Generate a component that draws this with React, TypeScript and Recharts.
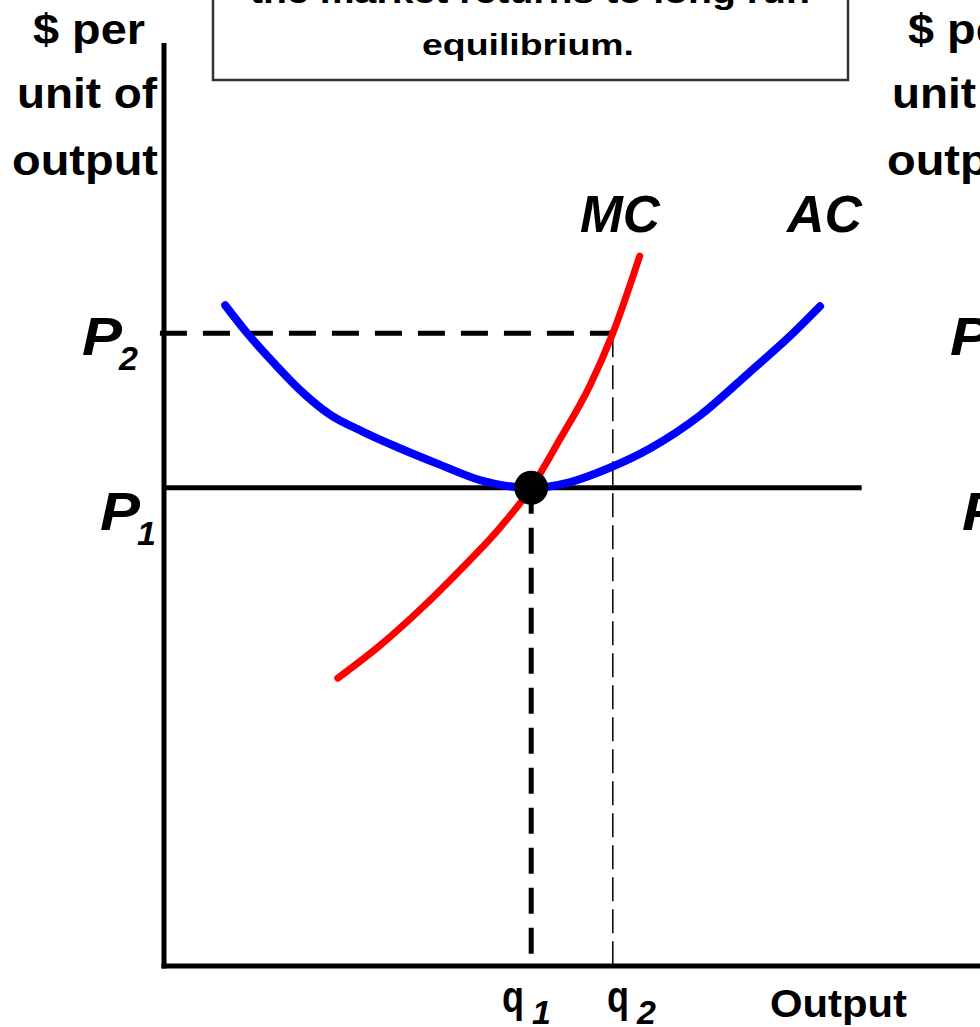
import { ComposedChart, Line, XAxis, YAxis, ReferenceLine, ReferenceDot } from "recharts";

// output (x) and $ per unit (y)
const acQty = [7.5, 10.2, 13.6, 16.7, 20.3, 24.4, 28.9, 33.8, 38.7, 45, 49.8, 54.7, 59.6, 65.7, 71.8, 76.7, 80.4];
const acCost = [68.4, 65.5, 62.3, 59.6, 57.1, 55.3, 53.6, 51.9, 50.3, 49.5, 50.1, 51.6, 53.6, 57.0, 61.5, 65.2, 68.3];

const mcQty = [21.3, 26.5, 31.4, 36.3, 41.2, 45, 48.5, 52.2, 55, 58.3];
const mcCost = [29.8, 33.2, 36.9, 41.0, 45.4, 49.5, 54.5, 60.1, 65.5, 73.5];

const q1 = 45;
const q2 = 55;
const p1 = 49.5;
const p2 = 65.5;
const p1LineEnd = 85.5;
const yAxisTop = 95.3;

const acData = acQty.map((x, i) => ({ x, y: acCost[i] }));
const mcData = mcQty.map((x, i) => ({ x, y: mcCost[i] }));

const W = 980;
const H = 1027;
const font = "'Liberation Sans', Arial, sans-serif";

function AxisLabel({ dx }: { dx: number }) {
  const st = { fontFamily: font, fontWeight: 700, fontSize: 42, fill: "#000" };
  return (
    <g>
      <text x={33 + dx} y={44} textLength={112} lengthAdjust="spacingAndGlyphs" style={st}>$ per</text>
      <text x={17 + dx} y={108} textLength={140} lengthAdjust="spacingAndGlyphs" style={st}>unit of</text>
      <text x={12 + dx} y={175} textLength={146} lengthAdjust="spacingAndGlyphs" style={st}>output</text>
    </g>
  );
}

function PLabel({ x, y, sub }: { x: number; y: number; sub: string }) {
  const st = { fontFamily: font, fontWeight: 700, fontStyle: "italic" as const, fill: "#000" };
  return (
    <g>
      <text x={x} y={y} fontSize={54} textLength={40} lengthAdjust="spacingAndGlyphs" style={st}>P</text>
      <text x={x + 37} y={y + 15} fontSize={34} style={st}>{sub}</text>
    </g>
  );
}

function QLabel({ x, sub }: { x: number; sub: string }) {
  const st = { fontFamily: font, fontWeight: 700, fill: "#000" };
  return (
    <g>
      <text x={x} y={1012} fontSize={44} textLength={22} lengthAdjust="spacingAndGlyphs" style={st}>q</text>
      <text x={x + 30} y={1024} fontSize={34} fontStyle="italic" style={st}>{sub}</text>
    </g>
  );
}

export default function App() {
  return (
    <div style={{ position: "absolute", left: 0, top: 0, width: W, height: H, background: "#fff" }}>
      <ComposedChart width={W} height={H} margin={{ top: 0, right: 0, bottom: 61, left: 164 }}>
        <XAxis type="number" dataKey="x" domain={[0, 100]} hide allowDataOverflow />
        <YAxis type="number" domain={[0, 100]} hide allowDataOverflow />
        <ReferenceLine segment={[{ x: 0, y: 0 }, { x: 100, y: 0 }]} stroke="#000" strokeWidth={5} strokeLinecap="square" ifOverflow="visible" />
        <ReferenceLine segment={[{ x: 0, y: 0 }, { x: 0, y: yAxisTop }]} stroke="#000" strokeWidth={5} strokeLinecap="square" ifOverflow="visible" />
        <ReferenceLine segment={[{ x: 0, y: p1 }, { x: p1LineEnd, y: p1 }]} stroke="#000" strokeWidth={5} ifOverflow="visible" />
        <ReferenceLine segment={[{ x: -0.5, y: p2 }, { x: q2, y: p2 }]} stroke="#000" strokeWidth={5} strokeDasharray="27 16" ifOverflow="visible" />
        <ReferenceLine segment={[{ x: q1, y: p1 }, { x: q1, y: 0 }]} stroke="#000" strokeWidth={5} strokeDasharray="26 14" ifOverflow="visible" />
        <ReferenceLine segment={[{ x: q2, y: p2 }, { x: q2, y: 0 }]} stroke="#000" strokeWidth={1.5} strokeDasharray="24 8" ifOverflow="visible" />
        <Line data={acData} dataKey="y" type="monotone" stroke="#0000ff" strokeWidth={8} strokeLinecap="round" dot={false} isAnimationActive={false} />
        <Line data={mcData} dataKey="y" type="monotone" stroke="#ff0000" strokeWidth={7} strokeLinecap="round" dot={false} isAnimationActive={false} />
        <ReferenceDot x={q1} y={p1} r={17} fill="#000" stroke="none" ifOverflow="visible" />
      </ComposedChart>
      <svg width={W} height={H} style={{ position: "absolute", left: 0, top: 0, pointerEvents: "none" }}>
        <rect x={213} y={-6} width={635} height={86} fill="#fff" stroke="#333" strokeWidth={2.5} />
        <text x={530} y={3} textAnchor="middle" textLength={560} lengthAdjust="spacingAndGlyphs" style={{ fontFamily: font, fontWeight: 700, fontSize: 32 }}>the market returns to long run</text>
        <text x={528} y={55} textAnchor="middle" textLength={212} lengthAdjust="spacingAndGlyphs" style={{ fontFamily: font, fontWeight: 700, fontSize: 30 }}>equilibrium.</text>
        <AxisLabel dx={0} />
        <AxisLabel dx={875} />
        <PLabel x={82} y={355} sub="2" />
        <PLabel x={100} y={530} sub="1" />
        <PLabel x={950} y={355} sub="2" />
        <PLabel x={962} y={530} sub="1" />
        <text x={580} y={232} textLength={80} lengthAdjust="spacingAndGlyphs" style={{ fontFamily: font, fontWeight: 700, fontStyle: "italic", fontSize: 52 }}>MC</text>
        <text x={787} y={232} textLength={75} lengthAdjust="spacingAndGlyphs" style={{ fontFamily: font, fontWeight: 700, fontStyle: "italic", fontSize: 52 }}>AC</text>
        <QLabel x={502} sub="1" />
        <QLabel x={607} sub="2" />
        <text x={770} y={1017} textLength={137} lengthAdjust="spacingAndGlyphs" style={{ fontFamily: font, fontWeight: 700, fontSize: 38 }}>Output</text>
      </svg>
    </div>
  );
}
